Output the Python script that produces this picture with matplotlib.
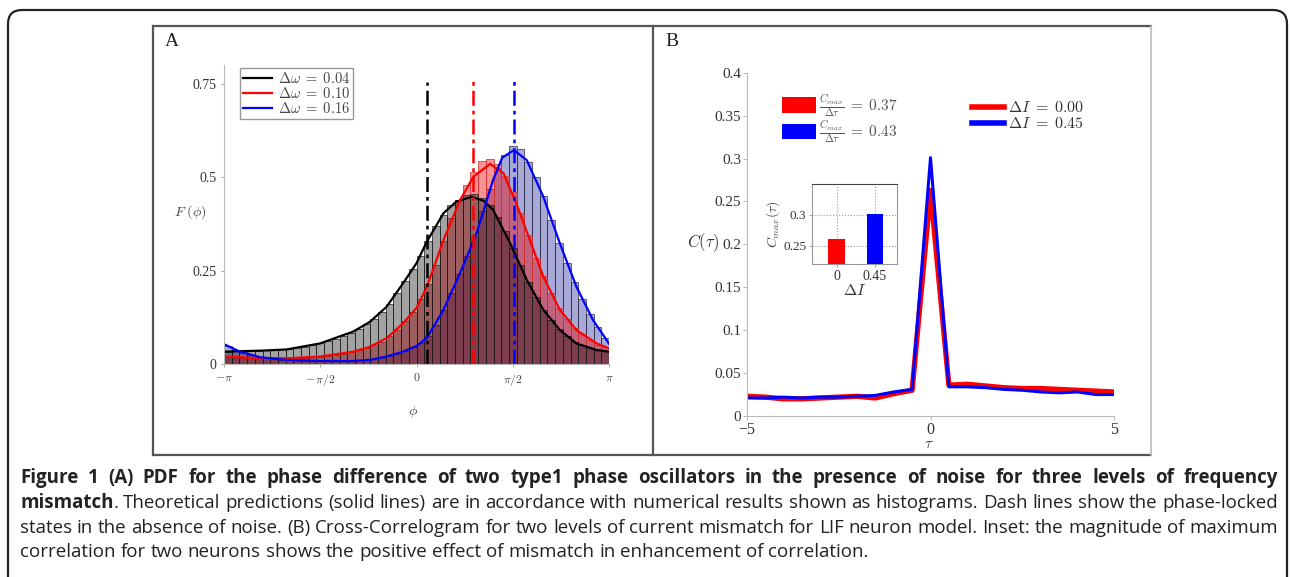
import numpy as np
import matplotlib.pyplot as plt
from matplotlib.patches import FancyBboxPatch, Patch
from matplotlib.lines import Line2D

# ---- panel A data: PDF of phase difference ----
dw_labels = [r'$\Delta\omega\;=\;0.04$', r'$\Delta\omega\;=\;0.10$', r'$\Delta\omega\;=\;0.16$']
locked_phase = [0.17, 0.93, 1.59]          # noise-free phase-locked states
locked_top = [0.755, 0.765, 0.765]

# histogram bin heights (50 bins over [-pi, pi])
hist_k = [0.033, 0.034, 0.034, 0.035, 0.036, 0.037, 0.038, 0.039, 0.040, 0.043,
          0.046, 0.050, 0.055, 0.061, 0.067, 0.074, 0.083, 0.094, 0.106, 0.120,
          0.138, 0.162, 0.190, 0.222, 0.255, 0.290, 0.330, 0.370, 0.400, 0.425,
          0.440, 0.452, 0.455, 0.445, 0.425, 0.395, 0.355, 0.310, 0.265, 0.220,
          0.180, 0.145, 0.117, 0.093, 0.075, 0.060, 0.050, 0.043, 0.038, 0.035]
hist_r = [0.020, 0.018, 0.017, 0.016, 0.016, 0.015, 0.015, 0.015, 0.016, 0.016,
          0.017, 0.018, 0.020, 0.022, 0.025, 0.028, 0.032, 0.038, 0.044, 0.050,
          0.060, 0.074, 0.092, 0.115, 0.140, 0.175, 0.215, 0.265, 0.330, 0.390,
          0.440, 0.480, 0.515, 0.545, 0.550, 0.535, 0.505, 0.460, 0.405, 0.345,
          0.285, 0.235, 0.190, 0.150, 0.120, 0.097, 0.080, 0.065, 0.052, 0.045]
hist_b = [0.047, 0.038, 0.030, 0.024, 0.019, 0.016, 0.013, 0.011, 0.010, 0.009,
          0.009, 0.008, 0.008, 0.008, 0.008, 0.008, 0.009, 0.010, 0.011, 0.013,
          0.016, 0.021, 0.027, 0.034, 0.045, 0.056, 0.075, 0.105, 0.145, 0.190,
          0.240, 0.290, 0.340, 0.410, 0.470, 0.525, 0.560, 0.585, 0.575, 0.540,
          0.500, 0.450, 0.385, 0.325, 0.270, 0.220, 0.175, 0.135, 0.100, 0.070]

# theoretical curves (phi, F)
phi_k = [-3.14, -2.5, -2.12, -1.575, -1.03, -0.76, -0.49, -0.22, 0.0, 0.17, 0.44,
         0.65, 0.90, 1.10, 1.25, 1.53, 1.80, 2.07, 2.34, 2.61, 2.94, 3.14]
F_k = [0.033, 0.036, 0.039, 0.055, 0.087, 0.113, 0.153, 0.216, 0.27, 0.328, 0.404,
       0.435, 0.448, 0.437, 0.413, 0.323, 0.225, 0.145, 0.091, 0.055, 0.0375, 0.033]
phi_r = [-3.14, -2.6, -2.12, -1.575, -1.03, -0.76, -0.49, -0.22, 0.0, 0.17, 0.44,
         0.71, 0.93, 1.20, 1.42, 1.63, 1.85, 2.07, 2.34, 2.61, 2.94, 3.14]
F_r = [0.020, 0.016, 0.015, 0.020, 0.033, 0.046, 0.069, 0.109, 0.150, 0.207, 0.332,
       0.439, 0.502, 0.536, 0.511, 0.430, 0.332, 0.234, 0.145, 0.091, 0.055, 0.042]
phi_b = [-3.14, -2.88, -2.55, -2.12, -1.575, -1.03, -0.76, -0.49, -0.22, 0.0, 0.17,
         0.44, 0.71, 0.98, 1.25, 1.40, 1.59, 1.80, 2.07, 2.34, 2.61, 2.88, 3.14]
F_b = [0.053, 0.033, 0.018, 0.011, 0.008, 0.008, 0.011, 0.020, 0.033, 0.048, 0.070,
       0.145, 0.243, 0.350, 0.493, 0.553, 0.573, 0.546, 0.448, 0.323, 0.207, 0.118, 0.055]

# ---- panel B data: cross-correlogram ----
tau = [-5, -4.5, -4, -3.5, -3, -2.5, -2, -1.5, -1, -0.5, 0, 0.5, 1, 1.5, 2, 2.5,
       3, 3.5, 4, 4.5, 5]
C_red = [0.023, 0.022, 0.020, 0.020, 0.021, 0.022, 0.023, 0.021, 0.026, 0.030, 0.263,
         0.036, 0.037, 0.035, 0.033, 0.032, 0.032, 0.031, 0.030, 0.029, 0.028]
C_blue = [0.021, 0.021, 0.022, 0.021, 0.022, 0.022, 0.023, 0.024, 0.028, 0.031, 0.301,
          0.034, 0.034, 0.033, 0.031, 0.030, 0.028, 0.027, 0.028, 0.025, 0.025]
dI_labels = [r'$\Delta I\;=\;0.00$', r'$\Delta I\;=\;0.45$']
slope_labels = [r'$\frac{C_{max}}{\Delta\tau}\;=\;0.37$', r'$\frac{C_{max}}{\Delta\tau}\;=\;0.43$']
inset_cats = ['0', '0.45']
inset_cmax = [0.261, 0.301]

caption = [
    [('Figure 1 (A) PDF for the phase difference of two type1 phase oscillators in the '
      'presence of noise for three levels of frequency', 'bold')],
    [('mismatch', 'bold'), ('. Theoretical predictions (solid lines) are in accordance with '
     'numerical results shown as histograms. Dash lines show the phase-locked', 'normal')],
    [('states in the absence of noise. (B) Cross-Correlogram for two levels of current mismatch '
      'for LIF neuron model. Inset: the magnitude of maximum', 'normal')],
    [('correlation for two neurons shows the positive effect of mismatch in enhancement of '
      'correlation.', 'normal')],
]

plt.rcParams['mathtext.fontset'] = 'cm'
plt.rcParams['font.family'] = ['Liberation Serif', 'DejaVu Serif']

W, H = 1290, 577
fig = plt.figure(figsize=(W / 100, H / 100), dpi=100)

# background axes in pixel coordinates for frames and caption
bg = fig.add_axes([0, 0, 1, 1])
bg.set_xlim(0, W)
bg.set_ylim(H, 0)
bg.axis('off')
bg.add_patch(FancyBboxPatch((8, 10), 1279, 640, boxstyle='round,pad=0,rounding_size=14',
                            fill=False, ec='#222222', lw=1.6))
dark = '#555555'
bg.plot([153, 1151], [26, 26], color=dark, lw=1.6)
bg.plot([153, 1151], [455, 455], color=dark, lw=1.6)
bg.plot([153, 153], [26, 455], color=dark, lw=1.6)
bg.plot([653, 653], [26, 455], color=dark, lw=1.6)
bg.plot([1151, 1151], [26, 455], color='#bbbbbb', lw=1.2)
bg.text(165, 42, 'A', fontsize=14, color='#222222', va='center')
bg.text(665, 41, 'B', fontsize=14, color='#222222', va='center')


def fx(px):
    return px / W


def fy(py):
    return 1 - py / H


# ---- panel A ----
axA = fig.add_axes([fx(224), fy(364), (609 - 224) / W, (364 - 65.4) / H])
axA.set_facecolor('none')
edges = np.linspace(-np.pi, np.pi, len(hist_k) + 1)
bw = edges[1] - edges[0]
axA.bar(edges[:-1], hist_b, width=bw, align='edge', color=(0.12, 0.12, 0.6, 0.38),
        edgecolor=(0.15, 0.15, 0.25, 0.7), lw=0.7)
axA.bar(edges[:-1], hist_r, width=bw, align='edge', color=(0.9, 0.0, 0.0, 0.42),
        edgecolor=(0.85, 0.2, 0.2, 0.8), lw=0.7)
axA.bar(edges[:-1], hist_k, width=bw, align='edge', color=(0, 0, 0, 0.36),
        edgecolor=(0.1, 0.1, 0.1, 0.7), lw=0.7)
cols = ['black', 'red', 'blue']
for (p, f, c) in [(phi_k, F_k, 'black'), (phi_r, F_r, 'red'), (phi_b, F_b, 'blue')]:
    axA.plot(p, f, color=c, lw=1.6)
for x0, top, c in zip(locked_phase, locked_top, cols):
    axA.plot([x0, x0], [0, top], color=c, lw=1.8, ls=(0, (6, 2, 1.5, 2)))
axA.set_xlim(-np.pi, np.pi)
axA.set_ylim(0, 0.8)
axA.set_xticks([-np.pi, -np.pi / 2, 0, np.pi / 2, np.pi])
axA.set_xticklabels([r'$-\pi$', r'$-\,\pi/2$', r'$0$', r'$\pi/2$', r'$\pi$'], fontsize=8.5,
                    color='#444444')
axA.set_yticks([0, 0.25, 0.5, 0.75])
axA.set_yticklabels(['0', '0.25', '0.5', '0.75'], fontsize=10, color='#333333')
for s in ['top', 'right']:
    axA.spines[s].set_visible(False)
for s in ['left', 'bottom']:
    axA.spines[s].set_color('#bbbbbb')
axA.tick_params(length=2.5, width=0.6, color='#999999', pad=3)
bg.text(190, 212, r'$F\ (\phi)$', fontsize=10, color='#444444', ha='center', va='center')
bg.text(413, 412, r'$\phi$', fontsize=10, color='#444444', ha='center', va='center')
handlesA = [Line2D([], [], color=c, lw=1.6) for c in cols]
legA = axA.legend(handlesA, dw_labels, loc='upper left', bbox_to_anchor=(fx(240), fy(68)),
                  bbox_transform=fig.transFigure, borderaxespad=0, fontsize=10.5,
                  handlelength=2.0, handletextpad=0.4, borderpad=0.2, labelspacing=0.0,
                  fancybox=False, edgecolor='#999999', framealpha=1)
for t in legA.get_texts():
    t.set_color('#444444')

# ---- panel B ----
axB = fig.add_axes([fx(746.7), fy(416), (1114.3 - 746.7) / W, (416 - 72.7) / H])
axB.set_facecolor('none')
axB.plot(tau, C_red, color='red', lw=3.8, solid_joinstyle='round')
axB.plot(tau, C_blue, color='blue', lw=2.2, solid_joinstyle='round')
axB.set_xlim(-5, 5)
axB.set_ylim(0, 0.4)
axB.set_xticks([-5, 0, 5])
axB.set_xticklabels(['\u22125', '0', '5'], fontsize=11.5, color='#333333')
axB.set_yticks([0, 0.05, 0.1, 0.15, 0.2, 0.25, 0.3, 0.35, 0.4])
axB.set_yticklabels(['0', '0.05', '0.1', '0.15', '0.2', '0.25', '0.3', '0.35', '0.4'],
                    fontsize=11, color='#333333')
for s in ['top', 'right']:
    axB.spines[s].set_visible(False)
for s in ['left', 'bottom']:
    axB.spines[s].set_color('#bbbbbb')
axB.tick_params(length=3, width=0.6, color='#aaaaaa', pad=1)
bg.text(703, 243, r'$C(\tau)$', fontsize=12, color='#333333', ha='center', va='center')
bg.text(929, 444, r'$\tau$', fontsize=11, color='#444444', ha='center', va='center')

hB1 = [Patch(facecolor=c, edgecolor='none') for c in ['red', 'blue']]
legB1 = axB.legend(hB1, slope_labels, loc='upper left', bbox_to_anchor=(fx(776), fy(86)),
                   bbox_transform=fig.transFigure, borderaxespad=0, fontsize=11,
                   handlelength=2.2, handleheight=1.15, handletextpad=0.2, labelspacing=0.0,
                   frameon=False)
for t in legB1.get_texts():
    t.set_color('#555555')
axB.add_artist(legB1)
hB2 = [Line2D([], [], color=c, lw=4) for c in ['red', 'blue']]
legB2 = axB.legend(hB2, dI_labels, loc='upper left', bbox_to_anchor=(fx(966), fy(94)),
                   bbox_transform=fig.transFigure, borderaxespad=0, fontsize=11.5,
                   handlelength=2.0, handletextpad=0.2, labelspacing=0.0, frameon=False)
for t in legB2.get_texts():
    t.set_color('#333333')

# inset
axI = fig.add_axes([fx(811.7), fy(264.3), 85 / W, (264.3 - 184) / H])
axI.bar([1, 2], inset_cmax, width=0.44, color=['red', 'blue'], zorder=3)
axI.set_xlim(0.347, 2.567)
axI.set_ylim(0.22, 0.35)
axI.set_xticks([1, 2])
axI.set_xticklabels(inset_cats, fontsize=10, color='#333333')
axI.set_yticks([0.25, 0.3])
axI.set_yticklabels(['0.25', '0.3'], fontsize=9.5, color='#333333')
axI.grid(True, ls=':', color='#999999', lw=0.8)
axI.tick_params(length=2, width=0.6, color='#999999', pad=2)
for s in ['left', 'right', 'bottom']:
    axI.spines[s].set_color('#999999')
axI.spines['top'].set_color('#444444')
axI.set_ylabel(r'$C_{max}(\tau)$', fontsize=10, color='#444444', labelpad=1)
axI.set_xlabel(r'$\Delta I$', fontsize=11.5, color='#333333', labelpad=0)

# ---- caption, word-placed to match the justified layout ----
cap_font = ['Open Sans', 'DejaVu Sans']
x_left, x_right = 20, 1278
baselines = [483, 508, 533, 557]
fs_cap = 13.5
fig.canvas.draw()
rend = fig.canvas.get_renderer()


def measure(s, weight):
    t = bg.text(0, 0, s, fontsize=fs_cap, fontweight=weight, family=cap_font)
    w = t.get_window_extent(rend).width
    t.remove()
    return w


space_w = measure('a a', 'normal') - measure('aa', 'normal')
for li, runs in enumerate(caption):
    # split into words, each word = list of (text, weight) pieces
    words = []
    cur = []
    for text, weight in runs:
        parts = text.split(' ')
        for k, p in enumerate(parts):
            if k > 0:
                if cur:
                    words.append(cur)
                cur = []
            if p:
                cur.append((p, weight))
    if cur:
        words.append(cur)
    widths = [[measure(p, w) for p, w in wd] for wd in words]
    total = sum(sum(ws) for ws in widths)
    if li < len(caption) - 1:
        gap = (x_right - x_left - total) / (len(words) - 1)
    else:
        gap = space_w
    x = x_left
    for wd, ws in zip(words, widths):
        for (p, weight), w in zip(wd, ws):
            bg.text(x, baselines[li], p, fontsize=fs_cap, fontweight=weight, family=cap_font,
                    color='#222222', va='baseline')
            x += w
        x += gap

fig.savefig('out.png', dpi=100)
